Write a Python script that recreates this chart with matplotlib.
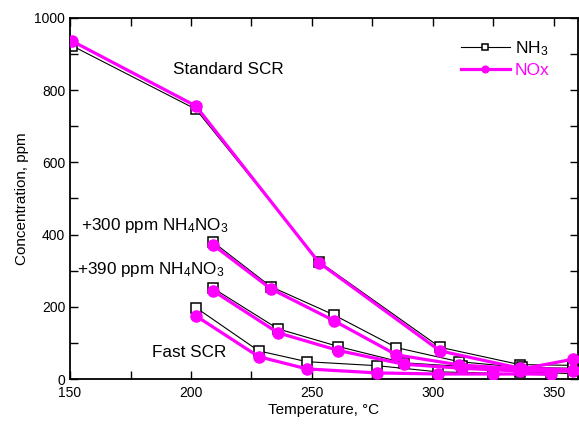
import matplotlib.pyplot as plt
from matplotlib.ticker import MultipleLocator

plt.rcParams['font.family'] = ['Liberation Sans', 'DejaVu Sans']
plt.rcParams['mathtext.fontset'] = 'custom'
plt.rcParams['mathtext.rm'] = 'Liberation Sans'
plt.rcParams['mathtext.it'] = 'Liberation Sans'

# temperature (deg C) and concentrations (ppm) per experiment
std_T = [151, 202, 253, 303, 336, 358]
std_nh3 = [922, 747, 325, 88, 40, 38]
std_nox = [935, 756, 322, 78, 30, 26]

an300_T = [209, 233, 259, 285, 311, 337, 358]
an300_nh3 = [380, 256, 178, 87, 48, 32, 30]
an300_nox = [372, 250, 162, 67, 39, 28, 55]

an390_T = [209, 236, 261, 288, 312, 336, 358]
an390_nh3 = [252, 139, 90, 45, 35, 20, 15]
an390_nox = [245, 128, 79, 41, 30, 22, 22]

fast_T = [202, 228, 248, 277, 302, 325, 349]
fast_nh3 = [198, 78, 48, 37, 20, 16, 11]
fast_nox = [175, 62, 28, 17, 14, 14, 14]

labels = [("Standard SCR", 192.5, 858),
          ("+300 ppm NH$_4$NO$_3$", 154.5, 425),
          ("+390 ppm NH$_4$NO$_3$", 153, 303),
          ("Fast SCR", 184, 73)]

magenta = '#FF00FF'

fig = plt.figure(figsize=(5.79, 4.24), dpi=100)
ax = fig.add_axes([0.121, 0.106, 0.877, 0.852])

series = [(std_T, std_nh3, std_nox), (an300_T, an300_nh3, an300_nox),
          (an390_T, an390_nh3, an390_nox), (fast_T, fast_nh3, fast_nox)]
for i, (T, nh3, nox) in enumerate(series):
    ax.plot(T, nh3, color='black', lw=0.8, marker='s', ms=6.5, mfc='white',
            mec='black', mew=1.1, label='NH$_3$' if i == 0 else None, zorder=2)
for i, (T, nh3, nox) in enumerate(series):
    ax.plot(T, nox, color=magenta, lw=2.3, marker='o', ms=8, mfc=magenta,
            mec=magenta, label='NOx' if i == 0 else None, zorder=3)

for txt, x, y in labels:
    ax.text(x, y, txt, fontsize=12.3, va='center', ha='left')

ax.set_xlim(150, 360)
ax.set_ylim(0, 1000)
ax.xaxis.set_major_locator(MultipleLocator(50))
ax.xaxis.set_minor_locator(MultipleLocator(25))
ax.yaxis.set_major_locator(MultipleLocator(200))
ax.yaxis.set_minor_locator(MultipleLocator(100))
ax.tick_params(which='both', direction='in', top=True, right=True, labelsize=10)
ax.tick_params(which='major', length=6, width=1)
ax.tick_params(which='minor', length=6, width=1)
ax.tick_params(axis='x', pad=5)
for sp in ax.spines.values():
    sp.set_linewidth(1.3)

ax.set_xlabel('Temperature, °C', fontsize=11, labelpad=2)
ax.set_ylabel('Concentration, ppm', fontsize=11, labelpad=4)

leg = ax.legend(loc='upper right', bbox_to_anchor=(0.975, 0.985), frameon=False,
                fontsize=12.5, handlelength=2.8, handletextpad=0.3,
                labelspacing=0.3, markerscale=0.6)
leg.get_texts()[1].set_color(magenta)

fig.savefig('out.png', dpi=100)
